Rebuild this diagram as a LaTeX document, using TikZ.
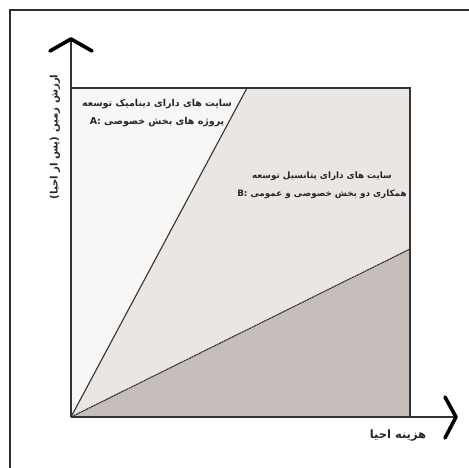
\documentclass[tikz,border=0pt]{standalone}
\usepackage{fontspec}
\newfontfamily\arabicfont[Script=Arabic]{DejaVu Sans}
\TeXXeTstate=1
\definecolor{frameC}{HTML}{2E2E2E}
\definecolor{lightR}{HTML}{E9E6E4}
\definecolor{darkR}{HTML}{C5BEBA}
\definecolor{whiteR}{HTML}{F8F7F6}
\definecolor{lineC}{HTML}{333333}
\tikzset{
  axisline/.style={lineC, line width=1.2pt},
  chev/.style={black, line width=3.6pt, line cap=round, line join=round},
  lab/.style={font=\arabicfont\bfseries\fontsize{9.5}{18}\selectfont, text=black!85, align=center, inner sep=0pt},
}
\begin{document}
\begin{tikzpicture}[x=1pt,y=-1pt]
\useasboundingbox (0,0) rectangle (469,468);
\fill[white] (0,0) rectangle (469,468);
% coordinates
\coordinate (O) at (71,417);
\coordinate (TL) at (71,88);
\coordinate (TR) at (410,88);
\coordinate (BR) at (410,417);
\coordinate (A) at (247,88);
\coordinate (B) at (410,249);
\coordinate (Ytop) at (71,39);
\coordinate (Xend) at (456,417);
\coordinate (FrTL) at (10,10);
\coordinate (FrTR) at (469,10);
\coordinate (FrBL) at (10,468);
% outer frame
\draw[frameC, line width=2pt] (FrBL) -- (FrTL) -- (FrTR);
% regions
\fill[whiteR] (O) -- (TL) -- (A) -- cycle;
\fill[lightR] (O) -- (A) -- (TR) -- (B) -- cycle;
\fill[darkR] (O) -- (B) -- (BR) -- cycle;
% square
\draw[axisline] (TL) -- (TR) -- (BR);
\draw[lineC, line width=1.1pt] (O) -- (A);
\draw[lineC, line width=1.1pt, dash pattern=on 2.2pt off 0.6pt] (O) -- (B);
% axes
\draw[axisline] (O) -- (Ytop);
\draw[axisline] (O) -- (Xend);
\draw[chev] (50,51) -- (Ytop) -- (92,51);
\draw[chev] (445,397) -- (Xend) -- (445,438);
% labels
\node[lab] (labA) at (157,113) {\beginR سایت های دارای دینامیک توسعه\endR\\\beginR پروژه های بخش خصوصی \beginL A:\endL\endR};
\node[lab, font=\arabicfont\bfseries\fontsize{8.8}{18.5}\selectfont] (labB) at (322,185) {\beginR سایت های دارای پتانسیل توسعه\endR\\\beginR همکاری دو بخش خصوصی و عمومی \beginL B:\endL\endR};
\node[lab, rotate=90, font=\arabicfont\bfseries\fontsize{10.2}{14}\selectfont] (labY) at (55,137) {\beginR ارزش زمین (پس از احیا)\endR};
\node[lab, font=\arabicfont\bfseries\fontsize{11.5}{14}\selectfont] (labX) at (398,436) {\beginR هزینه احیا\endR};
\end{tikzpicture}
\end{document}
